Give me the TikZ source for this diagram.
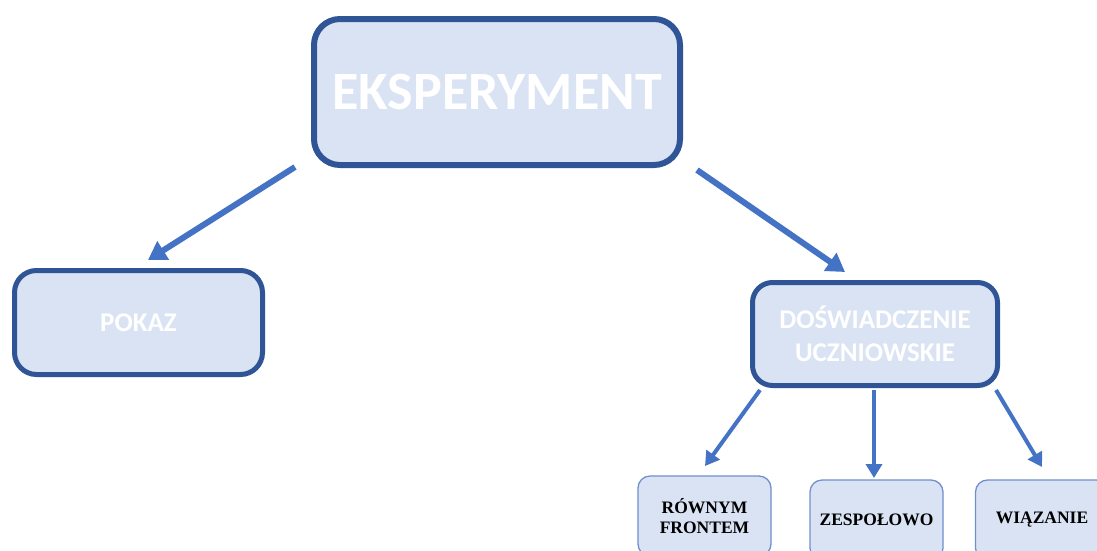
\documentclass[tikz,border=0pt]{standalone}
\usepackage{fontspec}
\setmainfont{Liberation Serif}
\newfontfamily\calib{Carlito}
\usetikzlibrary{arrows.meta}
\definecolor{boxfill}{HTML}{DAE3F3}
\definecolor{boxedge}{HTML}{2F5597}
\definecolor{arrowblue}{HTML}{4472C4}
\definecolor{smalledge}{HTML}{7090CC}
\tikzset{
  bigbox/.style={draw=boxedge, fill=boxfill, rounded corners=26pt, inner sep=0pt, text=white, font=\calib\bfseries, align=center},
  smallbox/.style={draw=smalledge, line width=1.3pt, fill=boxfill, rounded corners=12pt, minimum width=133pt, minimum height=80pt, inner sep=0pt, text=black, font=\fontsize{17.5}{19.5}\selectfont\bfseries, align=center},
  bigarrow/.style={draw=arrowblue, line width=6pt, -{Triangle[length=18pt,width=21pt]}},
  smallarrow/.style={draw=arrowblue, line width=4pt, -{Triangle[length=14pt,width=16pt]}}
}
\begin{document}
\begin{tikzpicture}[x=1pt,y=-1pt]
\useasboundingbox (0,0) rectangle (1097,550);
\clip (0,0) rectangle (1097,550);
\fill[white] (0,0) rectangle (1097,550);

\node[bigbox, line width=6pt, minimum width=366pt, minimum height=146pt, font=\calib\bfseries\fontsize{54}{60}\selectfont] (eks) at (497,92) {EKSPERYMENT};
\node[bigbox, line width=5pt, minimum width=248pt, minimum height=104pt, rounded corners=22pt, font=\calib\bfseries\fontsize{27}{33}\selectfont] (pokaz) at (138.5,322.5) {POKAZ};
\node[bigbox, line width=5pt, minimum width=245pt, minimum height=103pt, rounded corners=20pt, font=\calib\bfseries\fontsize{27}{33}\selectfont] (dosw) at (875,334) {DOŚWIADCZENIE\\UCZNIOWSKIE};

\node[smallbox] (row) at (704.5,516) {RÓWNYM\\FRONTEM};
\node[smallbox] (zesp) at (876.5,520) {ZESPOŁOWO};
\node[smallbox] (wiaz) at (1042,520) {WIĄZANIE};

\coordinate (a1s) at (295,167);
\coordinate (a1e) at (148,260);
\coordinate (a2s) at (697,170);
\coordinate (a2e) at (845,272);
\coordinate (a3s) at (760,390);
\coordinate (a3e) at (705,466);
\coordinate (a4s) at (874,390);
\coordinate (a4e) at (874,478);
\coordinate (a5s) at (996,390);
\coordinate (a5e) at (1042,467);

\draw[bigarrow] (a1s) -- (a1e);
\draw[bigarrow] (a2s) -- (a2e);
\draw[smallarrow] (a3s) -- (a3e);
\draw[smallarrow] (a4s) -- (a4e);
\draw[smallarrow] (a5s) -- (a5e);
\end{tikzpicture}
\end{document}
